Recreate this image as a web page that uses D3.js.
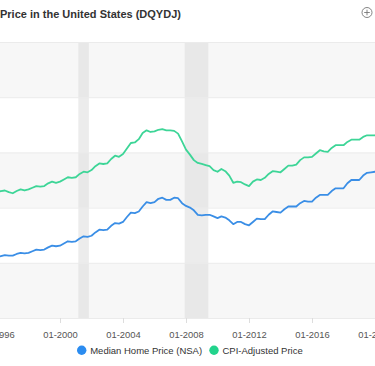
<!DOCTYPE html>
<html>
<head>
<meta charset="utf-8">
<script src="https://cdn.jsdelivr.net/npm/d3@7"></script>
<style>
  html, body { margin: 0; padding: 0; background: #fff; }
  svg { display: block; font-family: "Liberation Sans", Arial, Helvetica, sans-serif; }
</style>
</head>
<body>
<svg id="chart" width="375" height="366"></svg>
<script>
// ---- Data (quarterly: Jan, Apr, Jul, Oct), values in USD ----
const firstQuarter = "1995-10-01";
const medianHomePrice = [
  110000,
  110000, 112000, 114000, 113000,
  113000, 116000, 118000, 117000,
  118000, 121000, 124000, 123000,
  124000, 128000, 131000, 130000,
  131000, 135000, 139000, 138000,
  139000, 144000, 148000, 147000,
  149000, 155000, 160000, 159000,
  160000, 167000, 172000, 171000,
  174000, 183000, 191000, 190000,
  193000, 202000, 210000, 208000,
  210000, 216000, 218000, 214000,
  214000, 218000, 217000, 208000,
  203000, 200000, 195000, 187000,
  186000, 187000, 187000, 184000,
  181000, 184000, 182000, 177000,
  170000, 174000, 174000, 170000,
  168000, 174000, 180000, 179000,
  179000, 187000, 193000, 192000,
  191000, 197000, 202000, 202000,
  202000, 208000, 212000, 211000,
  211000, 218000, 223000, 223000,
  223000, 230000, 235000, 235000,
  235000, 244000, 250000, 250000,
  250000, 258000, 263000, 264000,
  265000, 268000
];
const cpiAdjustedPrice = [
  230000,
  228000, 230000, 231000, 228000,
  226000, 230000, 233000, 231000,
  233000, 236000, 239000, 238000,
  239000, 244000, 247000, 245000,
  247000, 251000, 255000, 254000,
  255000, 261000, 265000, 264000,
  268000, 275000, 280000, 279000,
  280000, 288000, 294000, 292000,
  297000, 307000, 317000, 318000,
  324000, 335000, 340000, 337000,
  338000, 341000, 342000, 340000,
  340000, 339000, 334000, 320000,
  305000, 296000, 286000, 281000,
  279000, 277000, 275000, 268000,
  265000, 270000, 266000, 258000,
  245000, 247000, 246000, 242000,
  239000, 247000, 251000, 250000,
  254000, 261000, 266000, 265000,
  264000, 270000, 276000, 276000,
  278000, 286000, 291000, 291000,
  292000, 298000, 304000, 302000,
  301000, 308000, 313000, 313000,
  313000, 319000, 323000, 323000,
  323000, 328000, 331000, 331000,
  331000, 334000
];
const seriesNames = ["Median Home Price (NSA)", "CPI-Adjusted Price"];
const seriesColors = ["#3a8ee6", "#3dd597"];
const legendColors = ["#2b8cf0", "#22d38c"];
const recessions = [["2001-03-01", "2001-11-01"], ["2007-12-01", "2009-06-01"]];
const yTicks = [0, 100000, 200000, 300000, 400000, 500000];
const xTickYears = [1996, 2000, 2004, 2008, 2012, 2016, 2020];
const titleText = "Price in the United States (DQYDJ)";

// ---- Layout ----
const svg = d3.select("#chart");
const parse = d3.timeParse("%Y-%m-%d");
const start = parse(firstQuarter);
const dates = d3.range(medianHomePrice.length).map(i => d3.timeMonth.offset(start, i * 3));

const plotLeft = -200, plotRight = 400, plotTop = 42, plotBottom = 318;

const x = d3.scaleTime()
  .domain([new Date(2000, 0, 1), new Date(2020, 0, 1)])
  .range([60, 375]);
const y = d3.scaleLinear().domain([0, 500000]).range([plotBottom, plotTop]);

// alternating bands
const bands = d3.pairs(yTicks);
svg.append("g").selectAll("rect").data(bands).join("rect")
  .attr("x", plotLeft).attr("width", plotRight - plotLeft)
  .attr("y", d => y(d[1])).attr("height", d => y(d[0]) - y(d[1]))
  .attr("fill", (d, i) => i % 2 === 0 ? "#f7f7f7" : "#ffffff");

// recessions
svg.append("g").selectAll("rect").data(recessions).join("rect")
  .attr("x", d => x(parse(d[0])))
  .attr("width", d => x(parse(d[1])) - x(parse(d[0])))
  .attr("y", plotTop).attr("height", plotBottom - plotTop)
  .attr("fill", "#d9d9d9").attr("fill-opacity", 0.5);

// grid lines
svg.append("g").selectAll("line").data(yTicks).join("line")
  .attr("x1", plotLeft).attr("x2", plotRight)
  .attr("y1", d => y(d) + 0.5).attr("y2", d => y(d) + 0.5)
  .attr("stroke", "#ebebeb").attr("stroke-width", 1);

// x axis
const xAxis = d3.axisBottom(x)
  .tickValues(xTickYears.map(yr => new Date(yr, 0, 1)))
  .tickFormat(d3.timeFormat("%m-%Y"))
  .tickSizeInner(5).tickSizeOuter(0).tickPadding(8);
const gx = svg.append("g").attr("transform", `translate(0,${plotBottom})`).call(xAxis);
gx.select(".domain").remove();
gx.selectAll(".tick line").attr("stroke", "#dddddd");
gx.selectAll(".tick text")
  .attr("fill", "#555").style("font-size", "9.4px")
  .style("font-family", '"Liberation Sans", Arial, Helvetica, sans-serif');

// lines
const line = d3.line().x((d, i) => x(dates[i])).y(d => y(d));
const clip = svg.append("clipPath").attr("id", "plotclip").append("rect")
  .attr("x", plotLeft).attr("y", plotTop - 5).attr("width", plotRight - plotLeft).attr("height", plotBottom - plotTop + 5);
[medianHomePrice, cpiAdjustedPrice].forEach((vals, k) => {
  svg.append("path").datum(vals)
    .attr("clip-path", "url(#plotclip)")
    .attr("fill", "none")
    .attr("stroke", seriesColors[k])
    .attr("stroke-width", 1.8)
    .attr("stroke-linejoin", "round")
    .attr("d", line);
});

// title
svg.append("text").attr("x", 0).attr("y", 18)
  .attr("font-weight", "bold").attr("font-size", "11px").attr("fill", "#333")
  .text(titleText);

// plus icon
const icon = svg.append("g").attr("transform", "translate(367,12.5)");
icon.append("circle").attr("r", 5).attr("fill", "none").attr("stroke", "#777").attr("stroke-width", 0.9);
icon.append("line").attr("x1", -2.8).attr("x2", 2.8).attr("stroke", "#777").attr("stroke-width", 0.9);
icon.append("line").attr("y1", -2.8).attr("y2", 2.8).attr("stroke", "#777").attr("stroke-width", 0.9);

// legend
const legendX = [81.7, 214];
const lg = svg.append("g").selectAll("g").data(seriesNames).join("g")
  .attr("transform", (d, i) => `translate(${legendX[i]},350.3)`);
lg.append("circle").attr("r", 4.7).attr("fill", (d, i) => legendColors[i]);
lg.append("text").attr("x", 8.5).attr("y", 3.4)
  .attr("font-size", "9.5px").attr("fill", "#333").text(d => d);
</script>
</body>
</html>
